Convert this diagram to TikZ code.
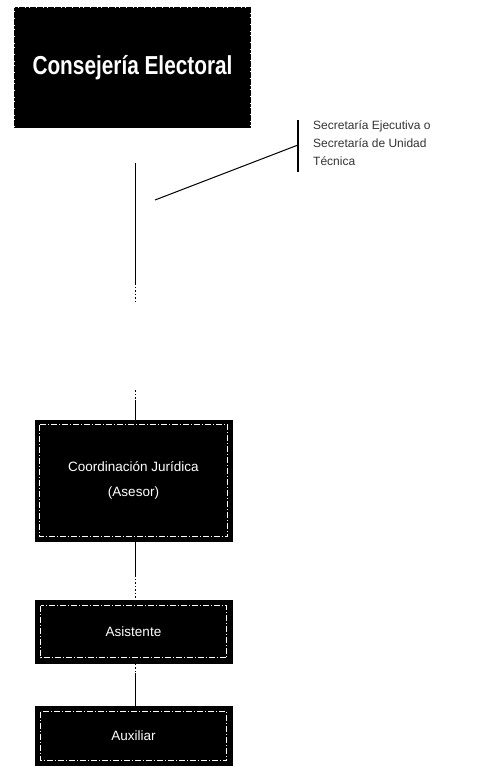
\documentclass[tikz,border=0pt]{standalone}
\usepackage{fontspec}
\setmainfont{Liberation Sans}
\usetikzlibrary{calc}
\begin{document}
\begin{tikzpicture}[x=1pt,y=-1pt,
  topbox/.style={draw=black,fill=black,line width=1.2pt,dash pattern=on 3pt off 0.6pt,text=white,inner sep=0pt},
  orgbox/.style={draw=black,fill=black,line width=1pt,text=white,inner sep=0pt,align=center,font=\fontsize{13.5}{25}\selectfont},
  inner/.style={draw=white,line width=0.8pt,dash pattern=on 6pt off 2pt on 1pt off 2pt},
  conn/.style={draw=black,line width=1pt},
  dotted end/.style={draw=black,line width=1pt,dash pattern=on 1.5pt off 2pt}]
\useasboundingbox (0,0) rectangle (495,766);
% top box
\node[topbox,minimum width=235pt,minimum height=120pt] (cons) at (132.5,67.5)
  {\scalebox{0.8}[1]{\fontsize{26}{30}\selectfont\bfseries Consejería Electoral}};
% side note
\coordinate (barT) at (298,120);
\coordinate (barB) at (298,172);
\draw[conn,line width=1.2pt] (barT) -- (barB);
\coordinate (noteA) at (298,145);
\coordinate (noteB) at (155,200);
\draw[conn] (noteA) -- (noteB);
\node[anchor=north west,align=left,text=black!80,font=\fontsize{12}{18}\selectfont,inner sep=0pt] (note) at (313,120)
  {Secretaría Ejecutiva o\\Secretaría de Unidad\\Técnica};
% middle boxes
\node[orgbox,minimum width=197pt,minimum height=121pt] (b1) at (133.5,480.5)
  {Coordinación Jurídica\\(Asesor)};
\draw[inner] ($(b1.north west)+(5,5)$) rectangle ($(b1.south east)+(-5,-5)$);
\node[orgbox,minimum width=197pt,minimum height=63pt] (b2) at (133.5,631.5) {Asistente};
\draw[inner] ($(b2.north west)+(6,6)$) rectangle ($(b2.south east)+(-6,-6)$);
\node[orgbox,minimum width=197pt,minimum height=60pt] (b3) at (133.5,736) {Auxiliar};
\draw[inner] ($(b3.north west)+(6,6)$) rectangle ($(b3.south east)+(-6,-6)$);
% connectors
\coordinate (c1) at (135,163);
\coordinate (c2) at (135,283);
\coordinate (c3) at (135,302);
\draw[conn] (c1) -- (c2);
\draw[dotted end] (c2) -- (c3);
\coordinate (c4) at (135,390);
\coordinate (c5) at (135,400);
\draw[dotted end] (c4) -- (c5);
\draw[conn] (c5) -- (c5 |- b1.north);
\coordinate (c6) at (135,575);
\draw[conn] (c6 |- b1.south) -- (c6);
\draw[dotted end] (c6) -- (c6 |- b2.north);
\coordinate (c7) at (135,673);
\draw[dotted end] (c7 |- b2.south) -- (c7);
\draw[conn] (c7) -- (c7 |- b3.north);
\end{tikzpicture}
\end{document}
